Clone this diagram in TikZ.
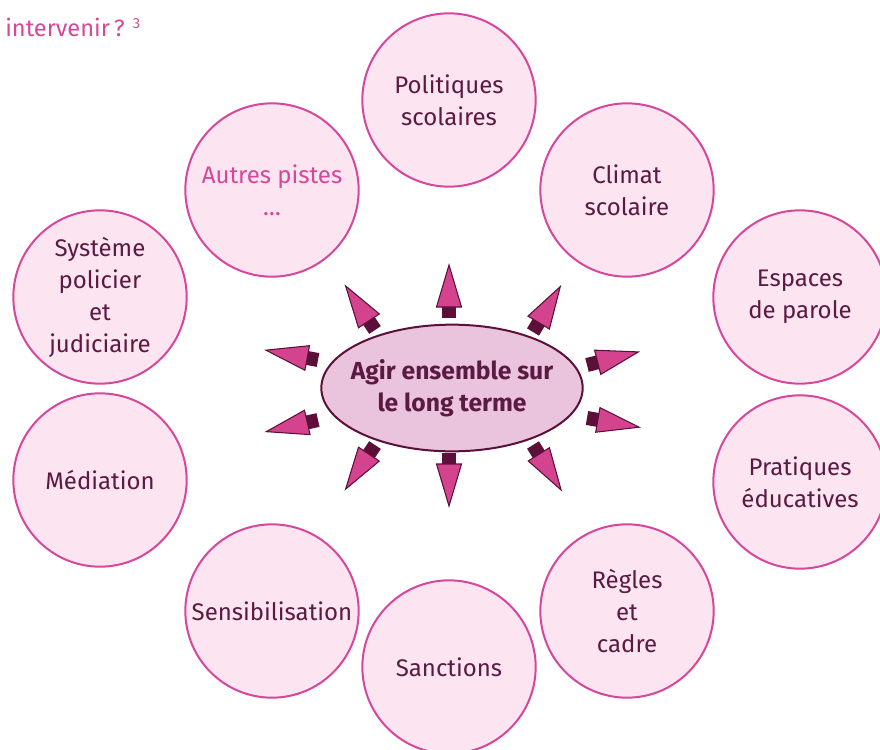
\documentclass[tikz,border=0pt]{standalone}
\usepackage{fontspec}
\setmainfont{Fira Sans}
\usetikzlibrary{shapes.geometric}
\definecolor{circfill}{HTML}{FCE4F0}
\definecolor{circline}{HTML}{D6469A}
\definecolor{txt}{HTML}{5A1A42}
\definecolor{pinktxt}{HTML}{D6479A}
\definecolor{ellfill}{HTML}{EAC4DC}
\definecolor{darkv}{HTML}{5C1039}
\definecolor{headfill}{HTML}{D4448E}
\begin{document}
\begin{tikzpicture}[x=0.75pt,y=-0.75pt,
  bubble/.style={circle, draw=circline, fill=circfill, line width=1.5pt,
    minimum size=130pt, inner sep=0pt, align=center, text=txt,
    font=\fontsize{18}{24}\selectfont},
  centreshape/.style={ellipse, draw=darkv, fill=ellfill, line width=1.5pt,
    minimum width=196pt, minimum height=95pt, inner sep=0pt},
  centretext/.style={inner sep=0pt, align=center,
    text=txt, font=\fontsize{18.5}{24}\selectfont},
  stem/.style={fill=darkv},
  head/.style={fill=headfill, draw=darkv, line width=0.8pt, line join=miter},
]
\useasboundingbox (0,0) rectangle (880,749);

\node[anchor=base west, text=pinktxt, font=\fontsize{17.7}{20}\selectfont, inner sep=0pt]
  (title) at (5,37) {intervenir\,?\hspace{0.35em}\raisebox{0.38em}{\fontsize{11}{11}\selectfont 3}};

\node[bubble] (pol) at (449,100) {Politiques\\scolaires};
\node[bubble] (aut) at (272,190) {\textcolor{pinktxt}{Autres pistes}\\\textcolor{pinktxt}{\dots}};
\node[bubble] (cli) at (627,190) {Climat\\scolaire};
\node[bubble] (sys) at (100,297) {Système\\policier\\et\\judiciaire};
\node[bubble] (esp) at (800,297) {Espaces\\de parole};
\node[bubble] (med) at (100,480) {Médiation};
\node[bubble] (pra) at (800,482) {Pratiques\\éducatives};
\node[bubble] (sen) at (272,611) {Sensibilisation};
\node[bubble] (reg) at (627,611) {Règles\\et\\cadre};
\node[bubble] (san) at (449,667) {Sanctions};

\node[centreshape] (c) at (452,388) {};
\node[centretext] (ct) at (c.center) {\textbf{Agir ensemble sur}\\\textbf{le long terme}};

\foreach \px/\py/\a in {449/318/90, 449/453/-90, 318/360/169.3, 318/420/192.7,
  375/330/123.7, 533/332/59, 587/365/14.3, 587/418/-10, 375/445/236.3, 533/445/-58}{
  \begin{scope}[shift={(\px,\py)}, rotate=\a]
    \fill[stem] (0,-7) rectangle (12,7);
    \draw[head] (11,-12.5) -- (53,0) -- (11,12.5) -- cycle;
  \end{scope}
}
\end{tikzpicture}
\end{document}
